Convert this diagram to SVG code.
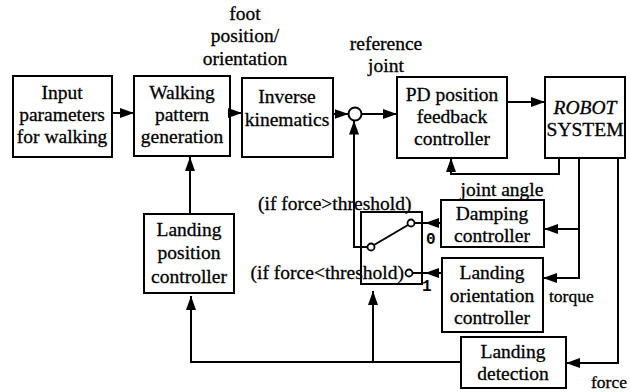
<svg xmlns="http://www.w3.org/2000/svg" width="630" height="392" viewBox="0 0 630 392">
<style>
.box{fill:#fff;stroke:#000;stroke-width:2}
.t{font-family:"Liberation Serif","Times New Roman",serif;font-size:19.5px;fill:#000;stroke:#000;stroke-width:0.3;text-anchor:middle}
.ts{font-family:"Liberation Serif","Times New Roman",serif;font-size:19.5px;fill:#000;stroke:#000;stroke-width:0.3}
.sm{font-family:"Liberation Serif","Times New Roman",serif;font-size:17.5px;fill:#000;stroke:#000;stroke-width:0.3}
.num{font-family:"Liberation Mono","Courier New",monospace;font-size:16px;font-weight:bold;fill:#000}
.ln{fill:none;stroke:#000;stroke-width:2}
.ar{fill:none;stroke:#000;stroke-width:2;marker-end:url(#ah)}
.ct{fill:#fff;stroke:#000;stroke-width:1.8}
</style>
<defs>
<marker id="ah" markerUnits="userSpaceOnUse" markerWidth="15" markerHeight="12" viewBox="0 0 15 12" refX="14" refY="6" orient="auto">
<path d="M0,1 L14,6 L0,11 Z" fill="#000"/>
</marker>
</defs>
<rect width="630" height="392" fill="#fff"/>

<g id="labels">
<text class="t" x="245" y="20">foot</text>
<text class="t" x="245" y="42">position/</text>
<text class="t" x="245" y="65">orientation</text>
<text class="t" x="386" y="50">reference</text>
<text class="t" x="386" y="72">joint</text>
<text class="ts" x="258" y="210">(if force&gt;threshold)</text>
<text class="ts" x="404" y="279" text-anchor="end">(if force&lt;threshold)</text>
<text class="t" x="502" y="196">joint angle</text>
<text class="sm" x="549" y="302">torque</text>
<text class="sm" x="591" y="388">force</text>
<text class="num" x="426" y="244">0</text>
<text class="num" x="422" y="291">1</text>
</g>

<g id="input">
<rect class="box" x="13" y="76" width="99" height="81"/>
<text class="t" x="62" y="99">Input</text>
<text class="t" x="62" y="121">parameters</text>
<text class="t" x="62" y="143">for walking</text>
</g>
<g id="walking">
<rect class="box" x="134" y="76" width="96" height="80"/>
<text class="t" x="182" y="99">Walking</text>
<text class="t" x="182" y="121">pattern</text>
<text class="t" x="182" y="143">generation</text>
</g>
<g id="inverse">
<rect class="box" x="242" y="78" width="91" height="79"/>
<text class="t" x="287" y="103">Inverse</text>
<text class="t" x="287" y="126">kinematics</text>
</g>
<g id="sum">
<circle cx="355" cy="114" r="6.5" fill="#fff" stroke="#000" stroke-width="2"/>
</g>
<g id="pd">
<rect class="box" x="397" y="77" width="110" height="81"/>
<text class="t" x="452" y="101">PD position</text>
<text class="t" x="452" y="123">feedback</text>
<text class="t" x="452" y="145">controller</text>
</g>
<g id="robot">
<rect class="box" x="545" y="77" width="80" height="81"/>
<text class="t" x="585" y="114" font-style="italic">ROBOT</text>
<text class="t" x="585" y="136">SYSTEM</text>
</g>
<g id="landing-position">
<rect class="box" x="144" y="214" width="90" height="79"/>
<text class="t" x="189" y="236">Landing</text>
<text class="t" x="189" y="259">position</text>
<text class="t" x="189" y="283">controller</text>
</g>
<g id="damping">
<rect class="box" x="441" y="200" width="103" height="47"/>
<text class="t" x="492" y="220">Damping</text>
<text class="t" x="492" y="242">controller</text>
</g>
<g id="landing-orientation">
<rect class="box" x="442" y="258" width="101" height="74"/>
<text class="t" x="492" y="279">Landing</text>
<text class="t" x="492" y="302">orientation</text>
<text class="t" x="492" y="324">controller</text>
</g>
<g id="landing-detection">
<rect class="box" x="461" y="337" width="105" height="51"/>
<text class="t" x="513" y="358">Landing</text>
<text class="t" x="513" y="380">detection</text>
</g>
<g id="switch">
<path class="ln" d="M361 212 H422 V284 H361 Z"/>
<line class="ln" x1="374" y1="245" x2="408" y2="225"/>
<circle class="ct" cx="371" cy="247" r="3.5"/>
<circle class="ct" cx="411" cy="223" r="3.5"/>
<circle class="ct" cx="409" cy="273" r="3.5"/>
</g>

<g id="connectors">
<path class="ar" d="M112 113 H134"/>
<path class="ar" d="M230 113 H242"/>
<path class="ar" d="M333 114 H348.5"/>
<path class="ar" d="M361.5 114 H397"/>
<path class="ar" d="M507 102 H545"/>
<path class="ar" d="M559 158 V174 H451 V158"/>
<path class="ar" d="M579 158 V278 H543"/>
<path class="ar" d="M579 229 H544"/>
<path class="ar" d="M618 158 V363 H566"/>
<path class="ar" d="M441 223 H425"/>
<path class="ln" d="M426 223 H414.5"/>
<path class="ar" d="M442 273 H425"/>
<path class="ln" d="M426 273 H412.5"/>
<path class="ar" d="M367.5 247 H354 V120.5"/>
<path class="ar" d="M461 362 H191 V296"/>
<path class="ar" d="M373 362 V291"/>
<path class="ar" d="M190 214 V157"/>
</g>
</svg>
